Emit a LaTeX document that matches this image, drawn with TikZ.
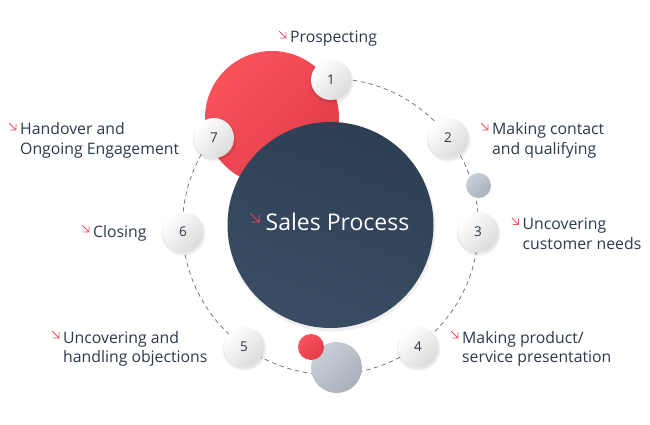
\documentclass[tikz,border=0pt]{standalone}
\usepackage{fontspec}
\setmainfont{Open Sans}
\definecolor{ink}{HTML}{2B3A4D}
\definecolor{accent}{HTML}{F0525C}
\definecolor{accentdk}{HTML}{D9475A}
\definecolor{navyA}{HTML}{2E3F54}
\definecolor{navyB}{HTML}{3A4D64}
\definecolor{redA}{HTML}{FA525B}
\definecolor{redB}{HTML}{E03C49}
\definecolor{greyA}{HTML}{C9D0D8}
\definecolor{greyB}{HTML}{A7B0BB}
\definecolor{ringgrey}{HTML}{6A6A6A}
\newcommand\twol[2]{\vtop{\hbox{#1}\hbox{#2}}}
\newcommand\redarr[1]{\draw[arrline] ([shift={(-10.5,-11.5)}]#1.base west) -- ++(6.5,6.5) ++(-5.5,0) -- ++(5.5,0) -- ++(0,-5.5);}
\begin{document}
\begin{tikzpicture}[x=1pt,y=-1pt,
  stepnum/.style={circle, minimum size=40pt, inner sep=0pt, top color=white, bottom color=black!14, shading angle=45, text=ink, font=\fontsize{13.5}{13.5}\selectfont},
  lbl/.style={anchor=base west, inner sep=0pt, text=ink, font=\fontsize{15.8}{19.5}\selectfont},
  arrline/.style={draw=accent, line width=0.75pt, line cap=round, line join=round},
  ring/.style={draw=ringgrey, line width=0.7pt, dash pattern=on 4.5pt off 3.5pt}]
\useasboundingbox (0,0) rectangle (650,425);
\fill[white] (0,0) rectangle (650,425);
% ring
\draw[ring] (330.5,226.5) circle (148);
% decorative circles
\shade[top color=redA, bottom color=redB, shading angle=45] (272,118) circle (67);
\fill[black, opacity=0.06] (331.5,227.5) circle (104);
\shade[left color=navyA, right color=navyB, shading angle=-20] (330.5,225) circle (103);
\shade[top color=greyA, bottom color=greyB, shading angle=45] (478.5,185.5) circle (12.5);
\shade[top color=greyA, bottom color=greyB, shading angle=45] (336.5,367.5) circle (25.5);
\shade[top color=redA, bottom color=redB, shading angle=45] (311,347) circle (13);
% soft shadows for step circles
\foreach \p in {(331,80),(448,138),(478,232),(418,347),(244,347),(183,232),(214,138)}{
  \fill[black, opacity=0.04] \p ++(0.5,2) circle (22);
  \fill[black, opacity=0.05] \p ++(0.5,1.5) circle (21);
}
% step circles
\node[stepnum] (n1) at (331,80) {1};
\node[stepnum] (n2) at (448,138) {2};
\node[stepnum] (n3) at (478,232) {3};
\node[stepnum] (n4) at (418,347) {4};
\node[stepnum] (n5) at (244,347) {5};
\node[stepnum] (n6) at (183,232) {6};
\node[stepnum] (n7) at (214,138) {7};
% centre title
\node[anchor=base west, inner sep=0pt, text=white, font=\fontsize{23}{23}\selectfont] (title) at (265.5,230) {Sales Process};
\draw[draw=accentdk, line width=1pt, line cap=round, line join=round] ([shift={(-15,-16.5)}]title.base west) -- ++(8.5,8.5) ++(-7,0) -- ++(7,0) -- ++(0,-7);
% labels
\node[lbl] (l1) at (290,43) {Prospecting};
\node[lbl] (l2) at (492,135) {\twol{Making contact}{and qualifying}};
\node[lbl] (l3) at (522.5,229.5) {\twol{Uncovering}{customer needs}};
\node[lbl] (l4) at (462,343) {\twol{Making product/}{service presentation}};
\node[lbl] (l5) at (63,343) {\twol{Uncovering and}{handling objections}};
\node[lbl] (l6) at (93,237) {Closing};
\node[lbl] (l7) at (20,135) {\twol{Handover and}{Ongoing Engagement}};
\redarr{l1}\redarr{l2}\redarr{l3}\redarr{l4}\redarr{l5}\redarr{l6}\redarr{l7}
\end{tikzpicture}
\end{document}
